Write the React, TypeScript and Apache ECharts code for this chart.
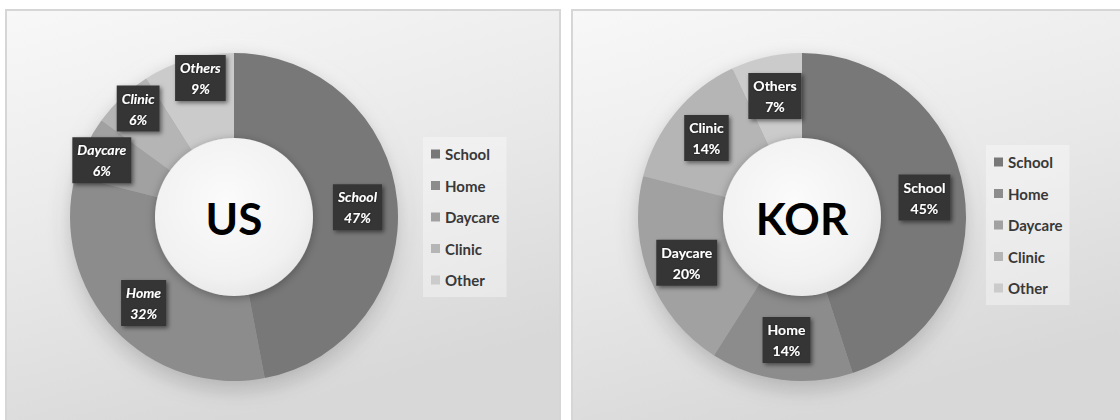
import React, { useEffect, useRef } from "react";
import * as echarts from "echarts";

const categories = ["School", "Home", "Daycare", "Clinic", "Other"];
const labelNames = ["School", "Home", "Daycare", "Clinic", "Others"];
const usValues = [47, 32, 6, 6, 9];
const korValues = [45, 14, 20, 14, 7];
const titles = ["US", "KOR"];

const sliceColors = ["#787878", "#8c8c8c", "#a1a1a1", "#b5b5b5", "#cbcbcb"];
// small label nudges (styling only) for the US chart, px
const usLabelShift = [
  [0, 2],
  [0, 1],
  [-20, -4],
  [-11, -18],
  [1, -20],
];

const CX = [234, 802];
const CY = 217;
const R_OUT = 164;
const R_IN = 78;

export default function App() {
  const ref = useRef<HTMLDivElement>(null);
  useEffect(() => {
    const chart = echarts.init(ref.current!, null, { renderer: "svg" });
    const panelFill = new echarts.graphic.LinearGradient(0, 0, 0.35, 1, [
      { offset: 0, color: "#f8f8f8" },
      { offset: 0.55, color: "#e8e8e8" },
      { offset: 1, color: "#d8d8d8" },
    ]);
    const discFill = new echarts.graphic.RadialGradient(0.45, 0.4, 0.7, [
      { offset: 0, color: "#fbfbfb" },
      { offset: 0.7, color: "#f1f1f1" },
      { offset: 1, color: "#e2e2e2" },
    ]);
    const haloFill = new echarts.graphic.RadialGradient(0.5, 0.5, 0.5, [
      { offset: 0.8, color: "rgba(255,255,255,0.9)" },
      { offset: 1, color: "rgba(255,255,255,0)" },
    ]);

    const makeSeries = (vals: number[], idx: number) => ({
      type: "pie",
      name: titles[idx],
      center: [CX[idx], CY],
      radius: [R_IN, R_OUT],
      startAngle: 90,
      clockwise: true,
      avoidLabelOverlap: false,
      z: 2,
      itemStyle: { borderWidth: 0 },
      label: {
        show: true,
        position: "inside",
        formatter: (p: any) => `${labelNames[p.dataIndex]}\n${p.value}%`,
        color: "#ffffff",
        fontFamily: "Lato",
        fontWeight: "bold",
        fontStyle: idx === 0 ? "italic" : "normal",
        fontSize: 14,
        lineHeight: 21,
        backgroundColor: "#363636",
        padding: [2, 5, 2, 5],
        shadowColor: "rgba(0,0,0,0.5)",
        shadowBlur: 4,
        shadowOffsetX: 2,
        shadowOffsetY: 2,
        textShadowColor: "rgba(0,0,0,0.6)",
        textShadowBlur: 2,
        align: "center",
      },
      labelLine: { show: false },
      labelLayout:
        idx === 0
          ? (p: any) => ({ dx: usLabelShift[p.dataIndex][0], dy: usLabelShift[p.dataIndex][1] })
          : undefined,
      emphasis: { disabled: true },
      data: categories.map((c, i) => ({
        name: c,
        value: vals[i],
        itemStyle: { color: sliceColors[i] },
      })),
    });

    const legendBase = {
      orient: "vertical",
      icon: "rect",
      itemWidth: 9,
      itemHeight: 9,
      itemGap: 13.5,
      itemTextGap: 4,
      padding: [8, 7, 8, 8],
      backgroundColor: "rgba(255,255,255,0.35)",
      selectedMode: false,
      data: categories,
      textStyle: {
        fontFamily: "Lato",
        fontWeight: "bold",
        fontSize: 15,
        lineHeight: 18,
        color: "#383838",
      },
    };

    const graphics: any[] = [];
    [6, 572].forEach((x) => {
      graphics.push({
        type: "rect",
        z: 0,
        shape: { x, y: 10, width: 554, height: 420 },
        style: { fill: panelFill, stroke: "#d6d6d6", lineWidth: 2 },
      });
    });
    CX.forEach((cx, i) => {
      graphics.push({
        type: "circle",
        z: 0,
        shape: { cx, cy: CY - 4, r: R_OUT + 16 },
        style: { fill: haloFill },
      });
      graphics.push({
        type: "circle",
        z: 1,
        shape: { cx, cy: CY, r: R_OUT - 1 },
        style: {
          fill: "#9a9a9a",
          shadowBlur: 22,
          shadowColor: "rgba(0,0,0,0.28)",
          shadowOffsetY: 6,
        },
      });
      graphics.push({
        type: "circle",
        z: 5,
        shape: { cx, cy: CY, r: R_IN + 1 },
        style: {
          fill: discFill,
          shadowBlur: 10,
          shadowColor: "rgba(0,0,0,0.3)",
          shadowOffsetY: 2,
        },
      });
      graphics.push({
        type: "text",
        z: 6,
        x: cx,
        y: CY + 1,
        style: {
          text: titles[i],
          fill: "#000000",
          font: "bold 44px Lato",
          align: "center",
          verticalAlign: "middle",
        },
      });
    });

    chart.setOption({
      animation: false,
      graphic: graphics,
      legend: [
        { ...legendBase, left: 423, top: 137 },
        { ...legendBase, left: 986, top: 145 },
      ],
      series: [makeSeries(usValues, 0), makeSeries(korValues, 1)],
    });
    return () => chart.dispose();
  }, []);
  return (
    <div
      ref={ref}
      style={{ position: "fixed", left: 0, top: 0, width: 1120, height: 420, background: "#ffffff" }}
    />
  );
}
